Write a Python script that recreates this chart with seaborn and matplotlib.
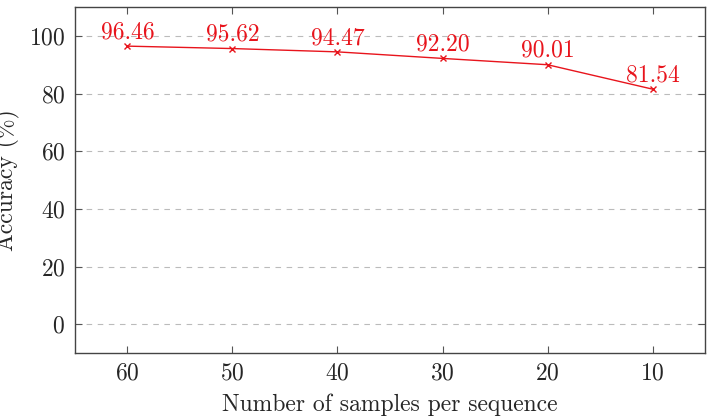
import pandas as pd
import seaborn as sns
import matplotlib.pyplot as plt

samples = [60, 50, 40, 30, 20, 10]
accuracy = [96.46, 95.62, 94.47, 92.20, 90.01, 81.54]
yticks = [0, 20, 40, 60, 80, 100]

sns.set_theme(style="ticks")
plt.rcParams['font.family'] = ['cmr10', 'DejaVu Serif']
plt.rcParams['mathtext.fontset'] = 'cm'
plt.rcParams['axes.formatter.use_mathtext'] = True

df = pd.DataFrame({'samples': samples, 'accuracy': accuracy})

fig = plt.figure(figsize=(7.1, 4.18), dpi=100)
ax = fig.add_axes([0.1056, 0.1555, 0.8874, 0.8275])

sns.lineplot(data=df, x='samples', y='accuracy', ax=ax, color='#e8141c',
             marker='x', markersize=5, markeredgewidth=1.0,
             markeredgecolor='#e8141c', linewidth=1.0)

for x, y in zip(samples, accuracy):
    ax.annotate(f"{y:.2f}", (x, y), xytext=(0, 2), textcoords='offset points',
                ha='center', va='bottom', color='#e8141c', fontsize=17)

ax.set_xlim(65, 5)
ax.set_ylim(-10, 110)
ax.set_xticks(samples)
ax.set_yticks(yticks)
ax.yaxis.grid(True, linestyle=(0, (5, 5)), color='#bbbbbb', linewidth=0.8)
ax.tick_params(direction='in', top=True, right=True, labelsize=17, length=5,
               width=0.8, color='#555555', pad=7)
for s in ax.spines.values():
    s.set_color('#444444')
    s.set_linewidth(1.0)
ax.set_xlabel("Number of samples per sequence", fontsize=17, labelpad=6)
ax.set_ylabel("Accuracy (%)", fontsize=17, labelpad=6)

fig.savefig("out.png", dpi=100)
